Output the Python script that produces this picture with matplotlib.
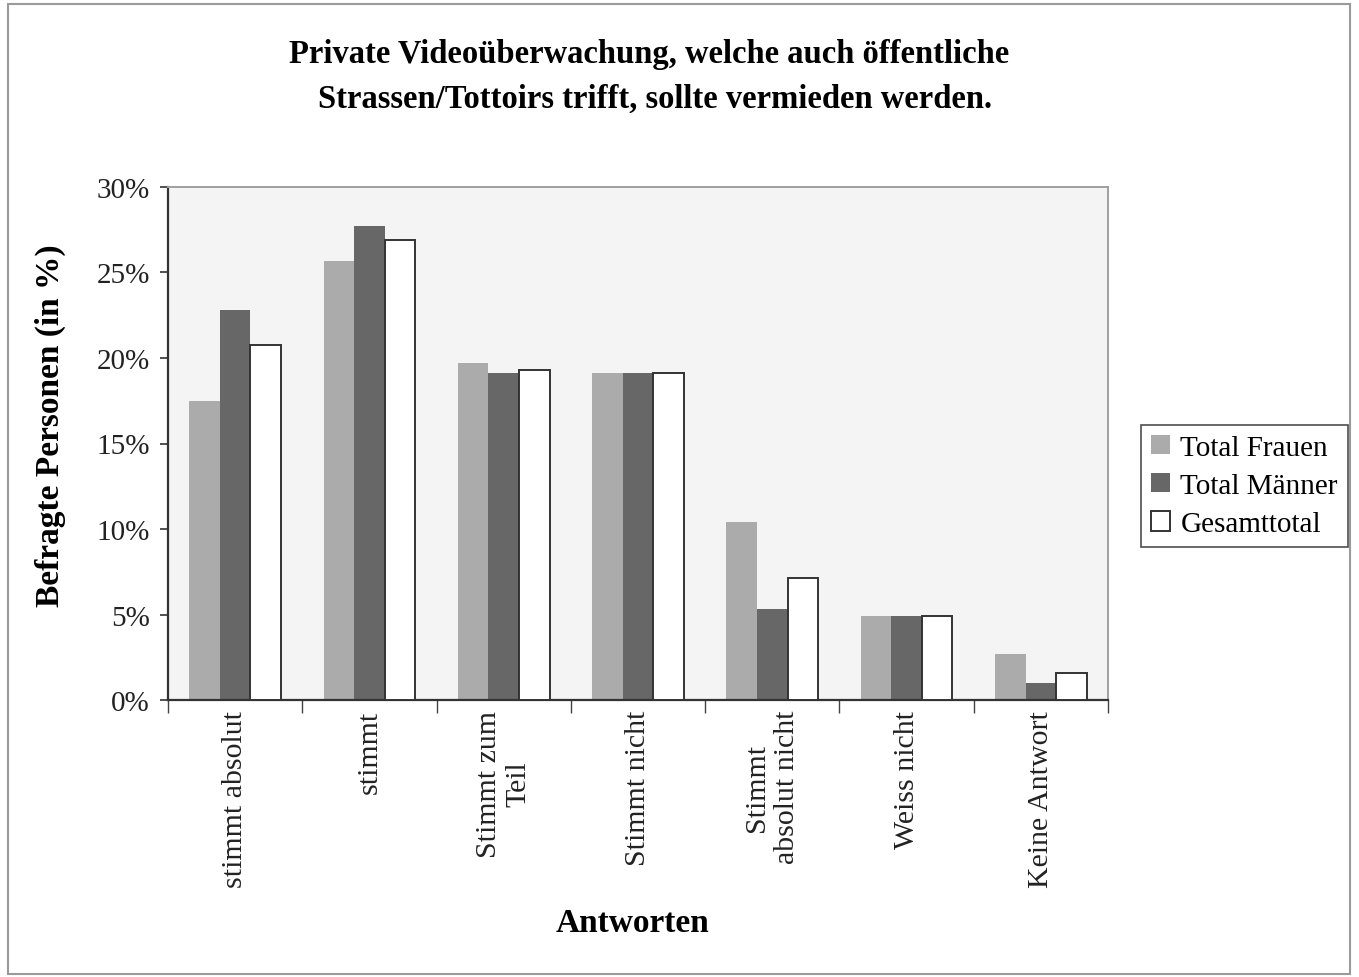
import matplotlib
matplotlib.use("Agg")
import matplotlib.pyplot as plt
import numpy as np
from matplotlib.patches import Rectangle
from matplotlib.ticker import FuncFormatter

categories = ["stimmt absolut", "stimmt", "Stimmt zum\nTeil", "Stimmt nicht",
              "Stimmt\nabsolut nicht", "Weiss nicht", "Keine Antwort"]
frauen = [17.5, 25.7, 19.7, 19.1, 10.4, 4.9, 2.7]
maenner = [22.8, 27.7, 19.1, 19.1, 5.3, 4.9, 1.0]
gesamt = [20.75, 26.9, 19.3, 19.1, 7.15, 4.9, 1.6]
series_names = ["Total Frauen", "Total Männer", "Gesamttotal"]
yticks = [0, 5, 10, 15, 20, 25, 30]

plt.rcParams['font.family'] = ['Liberation Serif', 'DejaVu Serif']

W, H = 1359, 978
fig = plt.figure(figsize=(W / 100, H / 100), dpi=100)
fig.patch.set_facecolor('white')

# outer border
fig.patches.append(Rectangle((8 / W, 1 - 975 / H), (1350 - 8) / W, (975 - 5) / H,
                             transform=fig.transFigure, fill=False,
                             edgecolor='#9a9a9a', linewidth=1.5))

ax = fig.add_axes([168 / W, 1 - 701 / H, (1108 - 168) / W, (701 - 188) / H])
ax.set_facecolor('#f4f4f4')

x = np.arange(len(categories))
bw = 0.228
ax.bar(x - bw, frauen, bw, color='#ababab', edgecolor='none', label=series_names[0], zorder=2)
ax.bar(x, maenner, bw, color='#676767', edgecolor='none', label=series_names[1], zorder=2)
ax.bar(x + bw, gesamt, bw, color='white', edgecolor='#333333', linewidth=1.4,
       label=series_names[2], zorder=3)

ax.set_xlim(-0.5, len(categories) - 0.5)
ax.set_ylim(0, 30)
ax.set_yticks(yticks)
ax.yaxis.set_major_formatter(FuncFormatter(lambda v, p: f"{int(v)}%"))
ax.tick_params(axis='y', direction='out', length=6, width=1.2, labelsize=21, pad=7,
               colors='#333333', labelcolor='#222222')

ax.set_xticks(np.arange(len(categories) + 1) - 0.5)
ax.set_xticklabels([])
ax.set_xticks(x, minor=True)
ax.set_xticklabels(categories, minor=True, rotation=90, fontsize=21.5,
                   va='top', ha='center', multialignment='center', color='#222222')
ax.tick_params(axis='x', which='major', direction='out', length=9, width=1.0, colors='#444444')
ax.tick_params(axis='x', which='minor', length=0, pad=7)

for s in ['left', 'bottom']:
    ax.spines[s].set_color('#333333')
    ax.spines[s].set_linewidth(1.6)
for s in ['top', 'right']:
    ax.spines[s].set_color('#a0a0a0')
    ax.spines[s].set_linewidth(1.4)

fig.text(649 / W, 1 - 55 / H, "Private Videoüberwachung, welche auch öffentliche",
         ha='center', va='center', fontsize=23.5, fontweight='bold')
fig.text(655 / W, 1 - 99 / H, "Strassen/Tottoirs trifft, sollte vermieden werden.",
         ha='center', va='center', fontsize=23.5, fontweight='bold')

fig.text(50 / W, 1 - 426 / H, "Befragte Personen (in %)", rotation=90,
         ha='center', va='center', fontsize=24, fontweight='bold')
fig.text(633 / W, 1 - 924 / H, "Antworten", ha='center', va='center',
         fontsize=24, fontweight='bold')

leg = fig.legend(loc='center left', bbox_to_anchor=(1141 / W, 1 - 487 / H),
                 bbox_transform=fig.transFigure, fontsize=21, frameon=True,
                 fancybox=False, handlelength=0.65, handleheight=0.65,
                 handletextpad=0.35, borderpad=0.35, labelspacing=0.42,
                 borderaxespad=0)
leg.get_frame().set_edgecolor('#222222')
leg.get_frame().set_linewidth(1.2)

fig.savefig("out.png", dpi=100)
